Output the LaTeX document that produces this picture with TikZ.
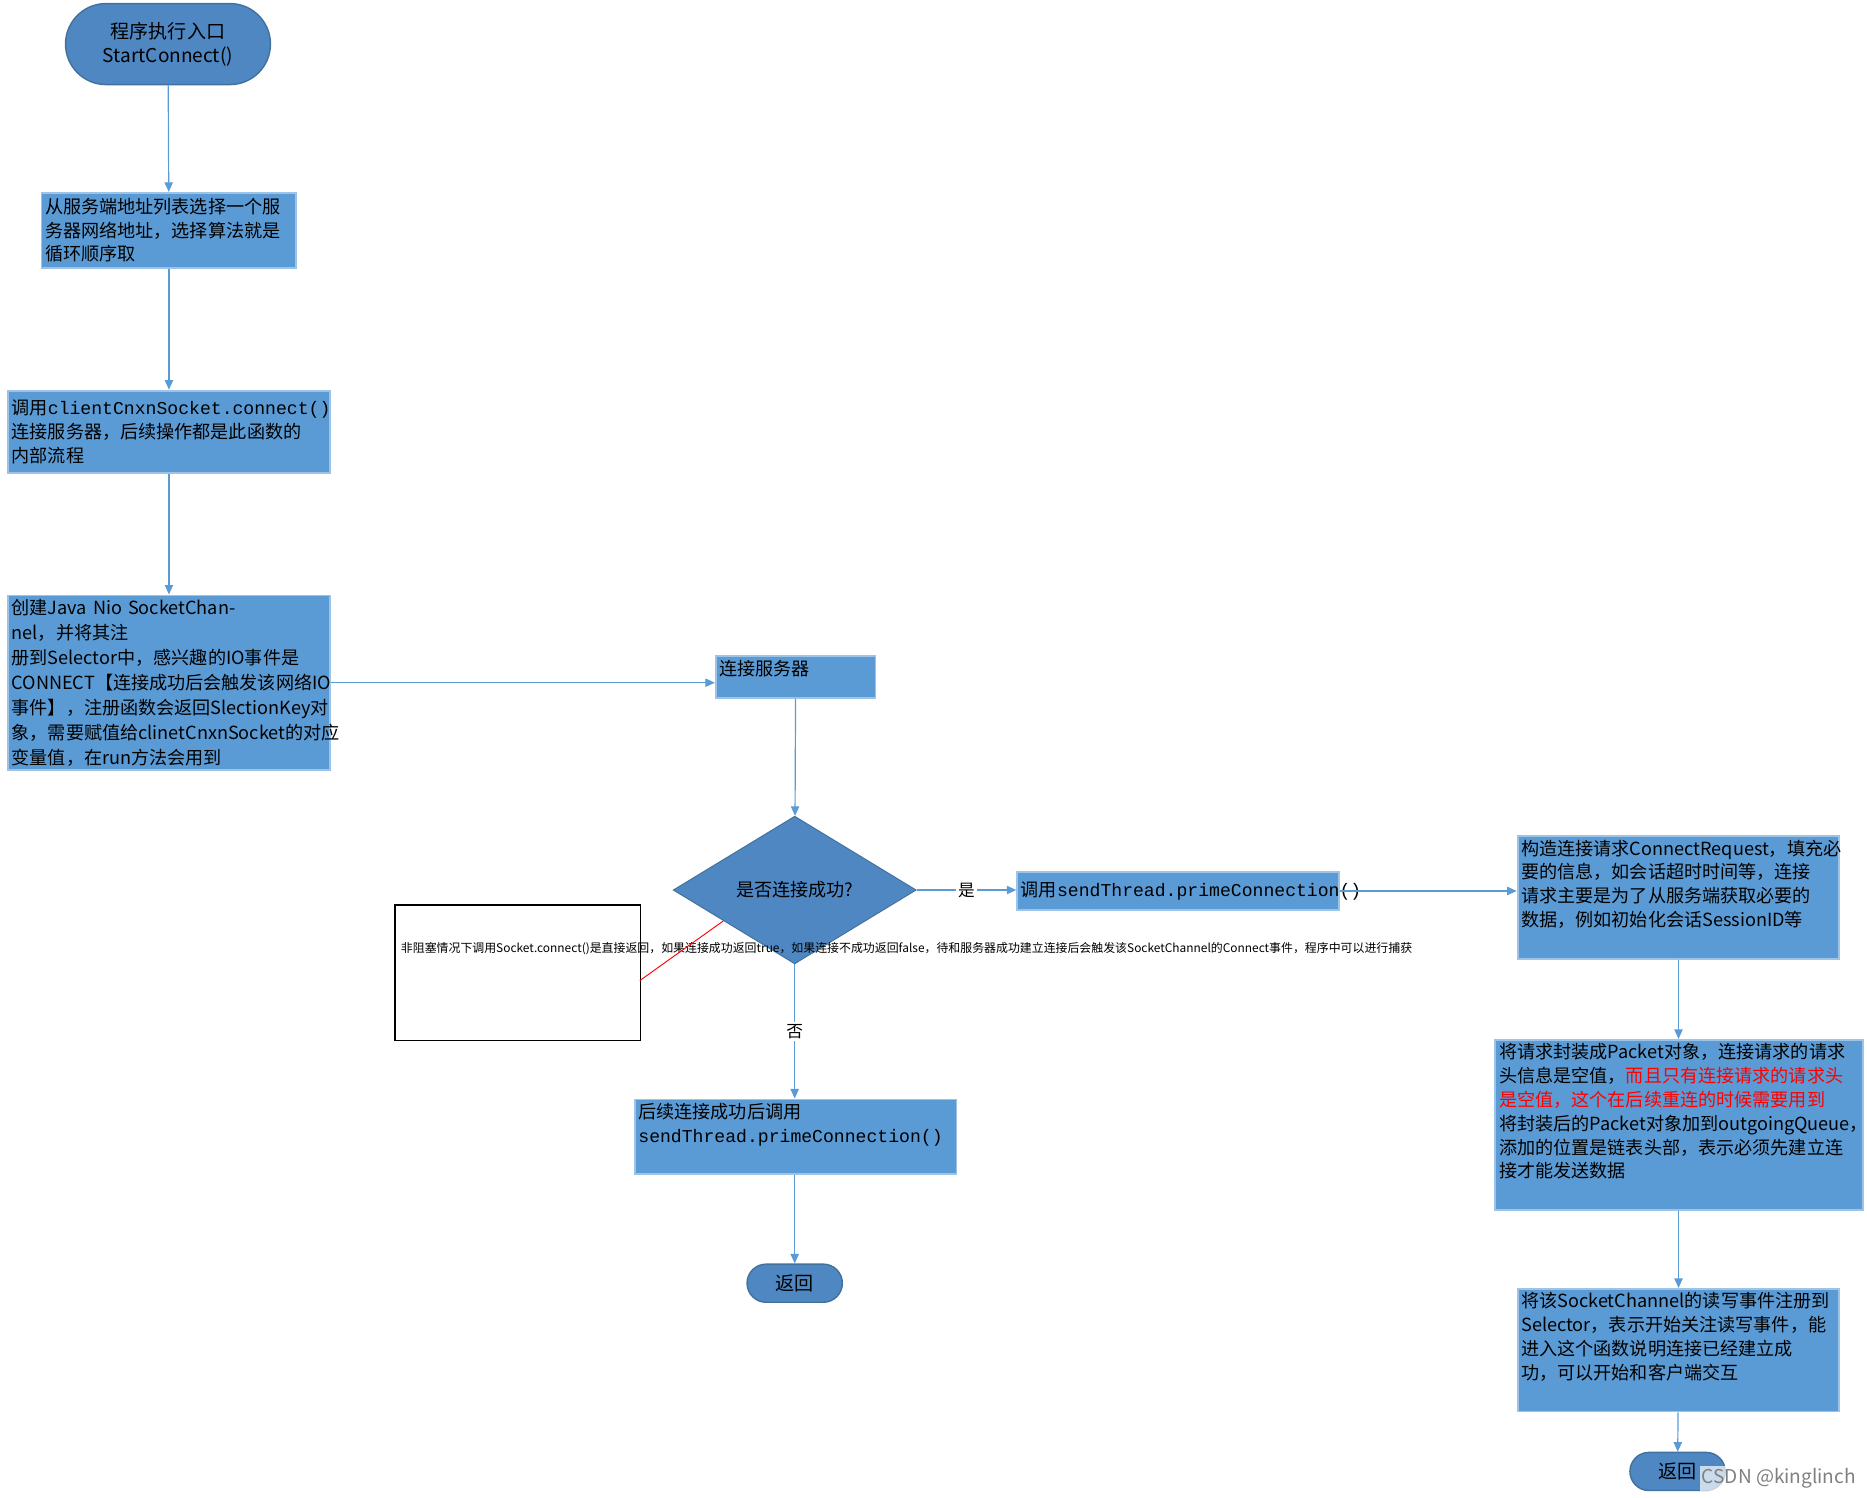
\documentclass[tikz,border=0pt]{standalone}
\usepackage{fontspec}
\setmainfont{Noto Sans CJK SC}
\newfontfamily\mono{Liberation Mono}
\usetikzlibrary{shapes.geometric,arrows.meta}
\definecolor{boxc}{HTML}{5B9BD5}
\definecolor{termc}{HTML}{4F87C2}
\definecolor{dark}{HTML}{41719C}
\begin{document}
\begin{tikzpicture}[x=0.5pt,y=-0.5pt,
 box/.style={draw=boxc!60!white,line width=0.8pt,fill=boxc,inner sep=1.5pt,align=left,font=\fontsize{7.6}{10}\selectfont,anchor=north west},
 term/.style={draw=dark,line width=0.6pt,fill=termc,rounded rectangle,font=\fontsize{8}{10}\selectfont,align=center},
 arr/.style={draw=boxc,line width=0.5pt,-{Triangle[length=4pt,width=3.5pt]}}]
\useasboundingbox (0,0) rectangle (1567,1257);
\tikzset{rounded rectangle/.style={rounded corners=16pt}}
% start
\node[term,draw=dark,minimum width=86pt,minimum height=34pt,rounded corners=17pt] (s) at (141,37) {程序执行入口\\StartConnect()};
\node[box,minimum width=107pt,minimum height=31.5pt,text width=104pt] (b1) at (34,161) {从服务端地址列表选择一个服\\务器网络地址，选择算法就是\\循环顺序取};
\node[box,minimum width=135pt,minimum height=34.5pt,text width=132pt] (b2) at (6,327) {调用{\mono clientCnxnSocket.connect()}\\连接服务器，后续操作都是此函数的\\内部流程};
\node[box,minimum width=135pt,minimum height=68pt,text width=132pt,font=\fontsize{7.6}{10.5}\selectfont] (b3) at (6,499) {创建Java Nio SocketChannel，并将其注\\册到Selector中，感兴趣的IO事件是\\CONNECT【连接成功后会触发该网络IO\\事件】，注册函数会返回SlectionKey对\\象，需要赋值给clinetCnxnSocket的对应\\变量值，在run方法会用到};
\node[box,minimum width=67pt,minimum height=17pt,text width=64pt,anchor=north west] (b4) at (600,550) {连接服务器\\[-2pt]\mbox{}};
\node[diamond,draw=dark,fill=termc,minimum width=102pt,minimum height=62pt,aspect=1.65,inner sep=0pt,font=\fontsize{7.6}{10}\selectfont] (d) at (667,747) {是否连接成功?};
\node[draw=black,line width=0.5pt,fill=white,anchor=north west,minimum width=103pt,minimum height=57pt,text width=98pt,inner sep=2pt,align=left,font=\fontsize{5}{7.4}\selectfont] (n) at (331,759) {非阻塞情况下调用Socket.connect()是直接返回，如果连接成功返回true，如果连接不成功返回false，待和服务器成功建立连接后会触发该SocketChannel的Connect事件，程序中可以进行捕获\\[14pt]\mbox{}};
\draw[red,line width=0.4pt] (537,823) -- (607,773);
\node[box,minimum width=135pt,minimum height=16pt,text width=132pt] (b5) at (853,731) {调用{\mono sendThread.primeConnection()}};
\node[box,minimum width=135pt,minimum height=47pt,text width=132pt] (b6) at (1273,701) {构造连接请求ConnectRequest，填充必\\要的信息，如会话超时时间等，连接\\请求主要是为了从服务端获取必要的\\数据，例如初始化会话SessionID等\\[2pt]\mbox{}};
\node[box,minimum width=154.5pt,minimum height=69pt,text width=151pt] (b7) at (1254,872) {将请求封装成Packet对象，连接请求的请求\\头信息是空值，\textcolor{red}{而且只有连接请求的请求头}\\\textcolor{red}{是空值，这个在后续重连的时候需要用到}\\将封装后的Packet对象加到outgoingQueue，\\添加的位置是链表头部，表示必须先建立连\\接才能发送数据\\[2pt]\mbox{}};
\node[box,minimum width=135pt,minimum height=46.5pt,text width=132pt] (b8) at (1273,1081) {将该SocketChannel的读写事件注册到\\Selector，表示开始关注读写事件，能\\进入这个函数说明连接已经建立成\\功，可以开始和客户端交互\\[2pt]\mbox{}};
\node[term,minimum width=40pt,minimum height=16pt,rounded corners=8pt] (r2) at (1408,1235) {返回};
\node[box,minimum width=135pt,minimum height=26pt,text width=132pt] (b9) at (532,922) {后续连接成功后调用\\{\mono sendThread.primeConnection()}\\[2pt]\mbox{}};
\node[term,minimum width=40pt,minimum height=16pt,rounded corners=8pt] (r1) at (667,1077) {返回};
\draw[arr] (s) -- (b1);
\draw[arr] (b1) -- (b2);
\draw[arr] (b2) -- (b3);
\draw[arr] (b3.east) -- (b4.west|-b3.east);
\draw[arr] (b4) -- (d);
\draw[arr] (d.east) -- node[fill=white,text=black,inner sep=1pt,font=\fontsize{7}{8}\selectfont]{是} (b5.west|-d.east);
\draw[arr] (b5.east) -- (b6.west|-b5.east);
\draw[arr] (d.south) -- node[fill=white,text=black,inner sep=1pt,font=\fontsize{7}{8}\selectfont,pos=0.5]{否} (b9.north-|d.south);
\draw[arr] (b9.south-|r1) -- (r1);
\draw[arr] (b6) -- (b6|-b7.north);
\draw[arr] (b6|-b7.south) -- (b8);
\draw[arr] (b8) -- (r2);
\node[text=gray,font=\fontsize{8}{10}\selectfont,fill=white,fill opacity=0.7,text opacity=1,inner sep=1pt] (w) at (1493,1241) {CSDN @kinglinch};
\end{tikzpicture}
\end{document}
